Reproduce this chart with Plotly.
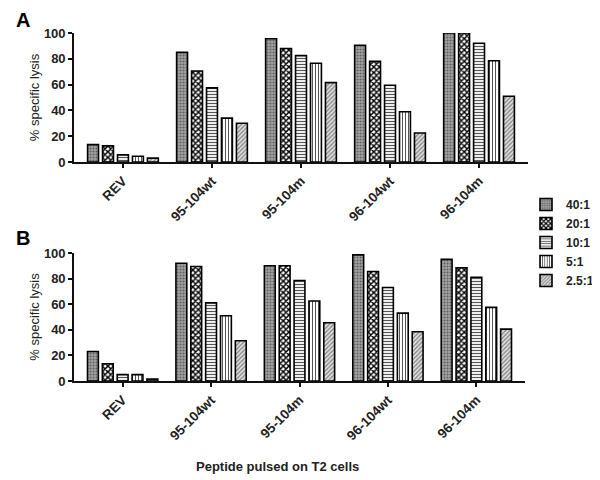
import plotly.graph_objects as go

categories = ["REV", "95-104wt", "95-104m", "96-104wt", "96-104m"]
ratios = ["40:1", "20:1", "10:1", "5:1", "2.5:1"]

# Panel A values (% specific lysis), one list per E:T ratio
a_40 = [13.5, 85, 95.5, 90.5, 100]
a_20 = [12.5, 70.5, 88, 78, 100]
a_10 = [5.5, 57.5, 82.5, 59.5, 92]
a_5 = [4.5, 34, 76.5, 39, 78.5]
a_25 = [3, 30, 61.5, 22.5, 51]

# Panel B values
b_40 = [23, 92, 90, 98.5, 95]
b_20 = [13.5, 89.5, 90, 85.5, 88.5]
b_10 = [5, 61, 78.5, 73, 81]
b_5 = [5, 51, 62.5, 53, 57.5]
b_25 = [1.5, 31.5, 45.5, 38.5, 40.5]

y_ticks = [0, 20, 40, 60, 80, 100]

patterns = [
    dict(shape=".", fgcolor="#606060", bgcolor="#a4a4a4", size=3, solidity=0.4, fillmode="replace"),
    dict(shape="x", fgcolor="#000000", bgcolor="#ffffff", size=4, solidity=0.6, fillmode="replace"),
    dict(shape="-", fgcolor="#555555", bgcolor="#ffffff", size=3, solidity=0.4, fillmode="replace"),
    dict(shape="|", fgcolor="#555555", bgcolor="#ffffff", size=3, solidity=0.35, fillmode="replace"),
    dict(shape="/", fgcolor="#888888", bgcolor="#e2e2e2", size=3, solidity=0.45, fillmode="replace"),
]

fig = go.Figure()
a_series = [a_40, a_20, a_10, a_5, a_25]
b_series = [b_40, b_20, b_10, b_5, b_25]
for name, vals, pat in zip(ratios, a_series, patterns):
    fig.add_trace(go.Bar(x=categories, y=vals, name=name, xaxis="x", yaxis="y",
                         marker=dict(color="#ffffff", pattern=pat, line=dict(color="#000", width=1.6)),
                         legendgroup=name, showlegend=True))
for name, vals, pat in zip(ratios, b_series, patterns):
    fig.add_trace(go.Bar(x=categories, y=vals, name=name, xaxis="x2", yaxis="y2",
                         marker=dict(color="#ffffff", pattern=pat, line=dict(color="#000", width=1.6)),
                         legendgroup=name, showlegend=False))

# page has an 8px body margin; positions below are page pixels minus that offset
OFF = 8
W, H = 600 - OFF, 480 - OFF
FONT = "Liberation Sans, Arial"
tickfont_x = dict(family=FONT, size=13.5, color="#222", weight="bold")
tickfont_y = dict(family=FONT, size=13, color="#222", weight="bold")

def px_x(v):
    return (v - OFF) / W

def px_y(v):
    return 1 - (v - OFF) / H

def xax(x0, x1, yanchor):
    return dict(domain=[px_x(x0), px_x(x1)], anchor=yanchor, showline=True, linecolor="#111",
                linewidth=1.6, ticks="outside", ticklen=4, tickwidth=1.5, tickcolor="#111",
                tickangle=-45, tickfont=tickfont_x, showgrid=False, zeroline=False,
                range=[-0.55, 4.55], automargin=False)

def yax(top_px, bot_px, xanchor):
    return dict(domain=[px_y(bot_px), px_y(top_px)], anchor=xanchor, range=[0, 100],
                showline=True, linecolor="#111", linewidth=1.6, ticks="outside", ticklen=4,
                tickwidth=1.5, tickcolor="#111", tickvals=y_ticks, tickfont=tickfont_y,
                showgrid=False, zeroline=False, automargin=False,
                title=dict(text="% specific lysis", font=dict(family=FONT, size=13, color="#222"),
                           standoff=1))

fig.update_layout(
    width=W, height=H,
    margin=dict(l=0, r=0, t=0, b=0),
    paper_bgcolor="white", plot_bgcolor="white",
    barmode="group", bargap=0.16, bargroupgap=0.27,
    xaxis=xax(74, 528, "y"),
    yaxis=yax(33, 162, "x"),
    xaxis2=xax(74, 525, "y2"),
    yaxis2=yax(253, 381, "x2"),
    legend=dict(x=px_x(526), y=px_y(190), xanchor="left", yanchor="top",
                font=dict(family=FONT, size=12, color="#222", weight="bold"),
                bgcolor="rgba(0,0,0,0)", itemwidth=30, tracegroupgap=0),
    showlegend=True,
    annotations=[
        dict(text="A", x=px_x(14), y=px_y(20), xref="paper", yref="paper", xanchor="left", yanchor="middle",
             showarrow=False, font=dict(family=FONT, size=20, color="#000", weight="bold")),
        dict(text="B", x=px_x(14), y=px_y(238), xref="paper", yref="paper", xanchor="left", yanchor="middle",
             showarrow=False, font=dict(family=FONT, size=20, color="#000", weight="bold")),
        dict(text="Peptide pulsed on T2 cells", x=px_x(277), y=px_y(466), xref="paper", yref="paper",
             xanchor="center", yanchor="middle", showarrow=False,
             font=dict(family=FONT, size=13, color="#222", weight="bold")),
    ],
)

fig.write_html("out.html")
